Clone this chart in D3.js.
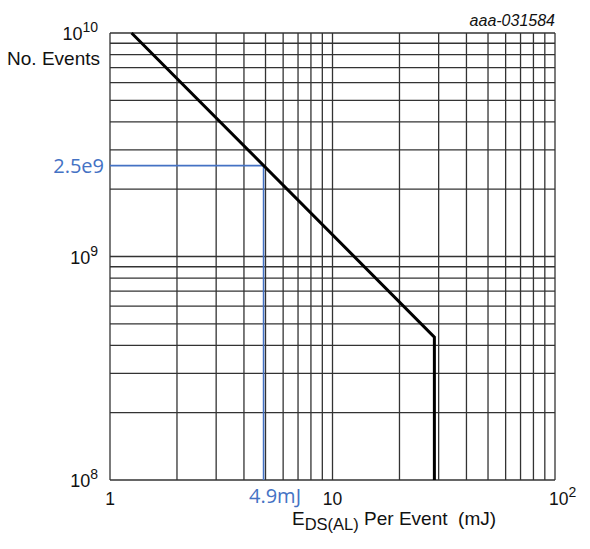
<!DOCTYPE html>
<html><head><meta charset="utf-8">
<script src="https://cdn.jsdelivr.net/npm/d3@7"></script>
<style>body{margin:0;background:#fff}svg{display:block}text{font-family:"Liberation Sans",Arial,sans-serif;fill:#111}</style>
</head><body>
<svg id="c" width="590" height="549"></svg>
<script>
// Data
const curveE = [1.25, 28.7, 28.7];          // energy per event (mJ)
const curveN = [1e10, 4.36e8, 1e8];         // number of events
const markE = 4.9;                           // marked energy (mJ)
const markN = 2.55e9;                        // events at marked energy
const markLabelN = "2.5e9";
const markLabelE = "4.9mJ";
const xDomain = [1, 100];
const yDomain = [1e8, 1e10];
const xTickLabels = [{v:1, base:"1", sup:""}, {v:10, base:"10", sup:""}, {v:100, base:"10", sup:"2"}];
const yTickLabels = [{v:1e8, base:"10", sup:"8"}, {v:1e9, base:"10", sup:"9"}, {v:1e10, base:"10", sup:"10"}];

const svg = d3.select("#c");
const L = 110, R = 555, T = 33, B = 480;
const x = d3.scaleLog().domain(xDomain).range([L, R]);
const y = d3.scaleLog().domain(yDomain).range([B, T]);

const gridX = [];
for (let d = 1; d < 100; d *= 10) for (let k = 1; k <= 9; k++) gridX.push(d * k);
gridX.push(100);
const gridY = [];
for (let d = 1e8; d < 1e10; d *= 10) for (let k = 1; k <= 9; k++) gridY.push(d * k);
gridY.push(1e10);

const g = svg.append("g");
g.selectAll("line.gx").data(gridX).join("line")
  .attr("x1", d => x(d)).attr("x2", d => x(d)).attr("y1", T).attr("y2", B)
  .attr("stroke", "#333").attr("stroke-width", 1.3);
g.selectAll("line.gy").data(gridY).join("line")
  .attr("y1", d => y(d)).attr("y2", d => y(d)).attr("x1", L).attr("x2", R)
  .attr("stroke", "#333").attr("stroke-width", 1.3);

// blue marker lines
g.append("path")
  .attr("d", d3.line()([[x(xDomain[0]), y(markN)], [x(markE), y(markN)], [x(markE), y(yDomain[0])]]))
  .attr("fill", "none").attr("stroke", "#4472C4").attr("stroke-width", 1.6);

// curve
const pts = curveE.map((e, i) => [x(e), y(curveN[i])]);
g.append("path").attr("d", d3.line()(pts))
  .attr("fill", "none").attr("stroke", "#000").attr("stroke-width", 3).attr("stroke-linejoin", "miter");

// y tick labels
yTickLabels.forEach(t => {
  const tx = svg.append("text").attr("x", 98).attr("y", y(t.v) + 7).attr("text-anchor", "end").attr("font-size", 18);
  tx.append("tspan").text(t.base);
  tx.append("tspan").attr("dy", -8).attr("font-size", 14).text(t.sup);
});
// x tick labels
xTickLabels.forEach(t => {
  const tx = svg.append("text").attr("y", 505).attr("font-size", 17.5);
  if (t.sup) {
    tx.attr("x", x(t.v) - 6).attr("text-anchor", "start");
    tx.append("tspan").text(t.base);
    tx.append("tspan").attr("dy", -8).attr("font-size", 14).text(t.sup);
  } else {
    tx.attr("x", x(t.v)).attr("text-anchor", "middle").text(t.base);
  }
});

// axis titles
svg.append("text").attr("x", 100).attr("y", 65).attr("text-anchor", "end").attr("font-size", 19).text("No. Events");
const xt = svg.append("text").attr("x", 292).attr("y", 525).attr("font-size", 19);
xt.append("tspan").text("E");
xt.append("tspan").attr("dy", 5).attr("font-size", 16.5).text("DS(AL)");
xt.append("tspan").attr("dy", -5).text(" Per Event\u00a0\u00a0(mJ)");

// code label
svg.append("text").attr("x", 555).attr("y", 26).attr("text-anchor", "end")
  .attr("font-size", 16).attr("font-style", "italic").text("aaa-031584");

// blue labels
svg.append("text").attr("x", 104).attr("y", 173).attr("text-anchor", "end")
  .style("font-family", "'Open Sans','Noto Sans',sans-serif").style("fill", "#4472C4")
  .attr("font-size", 20).text(markLabelN);
svg.append("text").attr("x", 275).attr("y", 503).attr("text-anchor", "middle")
  .style("font-family", "'Open Sans','Noto Sans',sans-serif").style("fill", "#4472C4")
  .attr("font-size", 20).text(markLabelE);
</script>
</body></html>
